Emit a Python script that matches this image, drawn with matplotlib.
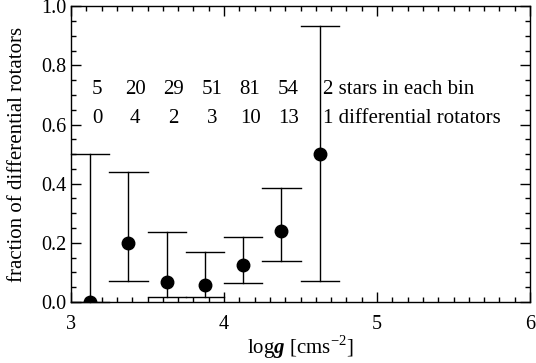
import matplotlib
matplotlib.use("Agg")
import matplotlib.pyplot as plt
from matplotlib.ticker import MultipleLocator
import numpy as np

# bins in log g (edges), counts per bin
bin_lo = [3.00, 3.25, 3.50, 3.75, 4.00, 4.25, 4.50]
bin_hi = [3.25, 3.50, 3.75, 4.00, 4.25, 4.50, 4.75]
n_stars = [5, 20, 29, 51, 81, 54, 2]
n_diff = [0, 4, 2, 3, 10, 13, 1]
# error limits
err_hi = [0.50, 0.44, 0.238, 0.17, 0.221, 0.385, 0.933]
err_lo = [0.0, 0.071, 0.016, 0.018, 0.063, 0.139, 0.072]

plt.rcParams['font.family'] = ['Liberation Serif', 'DejaVu Serif']
plt.rcParams['mathtext.fontset'] = 'custom'
plt.rcParams['mathtext.rm'] = 'Liberation Serif'
plt.rcParams['mathtext.bfit'] = 'Liberation Serif:bold:italic'

fig = plt.figure(figsize=(5.36, 3.63), dpi=100)
ax = fig.add_axes([0.1325, 0.168, 0.8565, 0.815])

xc = [(a + b) / 2 for a, b in zip(bin_lo, bin_hi)]
frac = [d / n for d, n in zip(n_diff, n_stars)]

for i in range(len(xc)):
    ax.plot([xc[i], xc[i]], [err_lo[i], err_hi[i]], color='k', lw=1, clip_on=False)
    ax.plot([bin_lo[i], bin_hi[i]], [err_hi[i], err_hi[i]], color='k', lw=1, clip_on=False)
    ax.plot([bin_lo[i], bin_hi[i]], [err_lo[i], err_lo[i]], color='k', lw=1, clip_on=False)
ax.plot(xc, frac, 'o', color='k', ms=9, zorder=5)

# counts written above the points
for i in range(len(xc) - 1):
    ax.text(xc[i] + 0.045, 0.702, str(n_stars[i]), ha='center', va='baseline', fontsize=15)
    ax.text(xc[i] + 0.045, 0.606, str(n_diff[i]), ha='center', va='baseline', fontsize=15)
ax.text(4.645, 0.702, f"{n_stars[-1]} stars in each bin", ha='left', va='baseline', fontsize=15)
ax.text(4.645, 0.606, f"{n_diff[-1]} differential rotators", ha='left', va='baseline', fontsize=15)

ax.set_xlim(3, 6)
ax.set_ylim(0, 1)
ax.xaxis.set_major_locator(MultipleLocator(1))
ax.xaxis.set_minor_locator(MultipleLocator(0.1))
ax.yaxis.set_major_locator(MultipleLocator(0.2))
ax.yaxis.set_minor_locator(MultipleLocator(0.05))
ax.yaxis.set_major_formatter(plt.FormatStrFormatter('%.1f'))
ax.tick_params(which='both', direction='in', top=True, right=True, labelsize=14.5)
ax.tick_params(which='major', length=7, width=1)
ax.tick_params(which='minor', length=3.5, width=1)
ax.tick_params(axis='x', pad=9)
for s in ax.spines.values():
    s.set_linewidth(1)

ax.set_xlabel(r"log$\boldsymbol{g}$ [cms$^{-2}$]", fontsize=15, labelpad=0)
ax.set_ylabel("fraction of differential rotators", fontsize=15, labelpad=10)

fig.savefig("out.png", dpi=100)
